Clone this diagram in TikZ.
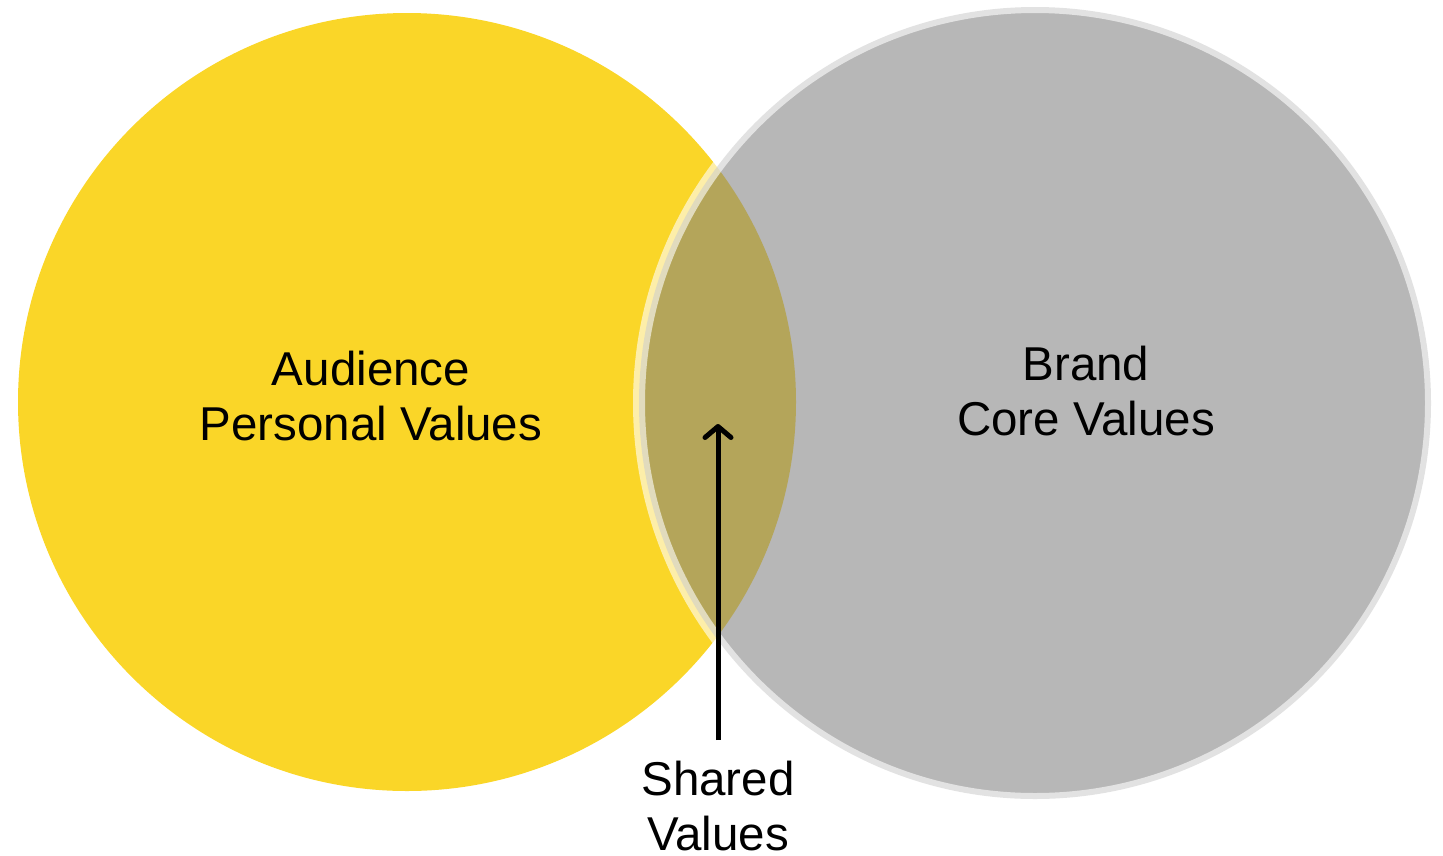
\documentclass[tikz,border=0pt]{standalone}
\usepackage{fontspec}
\setmainfont{Liberation Sans}
\usetikzlibrary{arrows.meta}
\definecolor{audienceyellow}{RGB}{250,214,40}
\definecolor{brandgray}{RGB}{128,128,128}
\tikzset{
  venn label/.style={align=center, font=\fontsize{47.5}{55}\selectfont, inner sep=0pt},
  audience circle/.style={fill=audienceyellow, draw=none},
  brand circle/.style={fill=brandgray, fill opacity=0.57, draw=white, draw opacity=0.6, line width=12pt},
}
\begin{document}
\begin{tikzpicture}[x=1pt, y=-1pt]
    \useasboundingbox (0,0) rectangle (1443,855);

    \fill [audience circle] (407,402) circle (389);
    \filldraw [brand circle] (1035,403) circle (396);

    \node [venn label] (audience) at (371,396) {Audience\\Personal Values};
    \node [venn label] (brand) at (1086,391) {Brand\\Core Values};
    \node [venn label] (shared) at (718,806) {Shared\\Values};

    \coordinate (tail) at (718,740);
    \coordinate (tip) at (718,424);
    \draw [line width=5pt, -{Straight Barb[length=11pt, width=26pt, round]}] (tail) -- (tip);
  \end{tikzpicture}
\end{document}
